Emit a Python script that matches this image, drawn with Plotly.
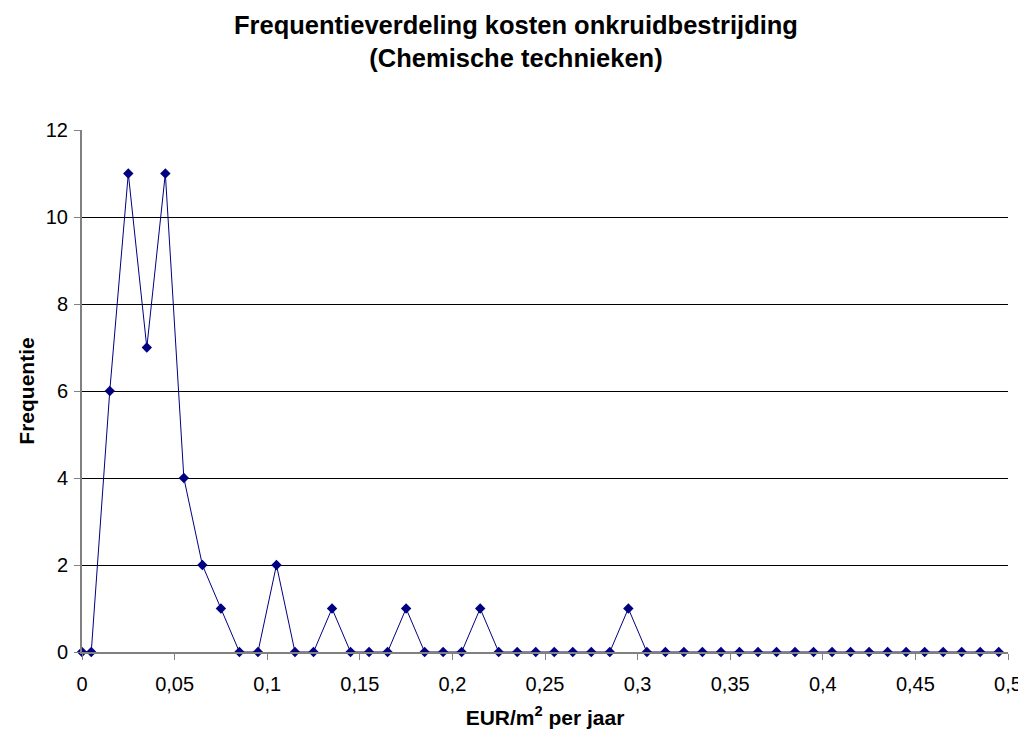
import plotly.graph_objects as go

x_values = [0, 0.005] + [round(0.015 + 0.01 * i, 3) for i in range(49)]
frequencies = [0, 0, 6, 11, 7, 11, 4, 2, 1, 0,
               0, 2, 0, 0, 1, 0, 0, 0, 1, 0,
               0, 0, 1, 0, 0, 0, 0, 0, 0, 0,
               1, 0, 0, 0, 0, 0, 0, 0, 0, 0,
               0, 0, 0, 0, 0, 0, 0, 0, 0, 0, 0]
x_title = "EUR/m<sup>2</sup> per jaar"
y_title = "Frequentie"
chart_title = "<b>Frequentieverdeling kosten onkruidbestrijding<br>(Chemische technieken)</b>"

fig = go.Figure(go.Scatter(
    x=x_values, y=frequencies, mode="lines+markers",
    line=dict(color="#000080", width=1),
    marker=dict(symbol="diamond", size=8, color="#000080"),
    cliponaxis=False,
))

fig.update_layout(
    width=1018, height=721,
    margin=dict(l=74, r=18, t=122, b=77),
    paper_bgcolor="white", plot_bgcolor="white",
    separators=",.",
    font=dict(family="Liberation Sans, Arial", color="black"),
    title=dict(text=chart_title, x=508 / 1018, xanchor="center", y=1 - 25.8 / 721, yanchor="top",
               font=dict(size=25.5)),
    showlegend=False,
)
fig.update_xaxes(
    range=[0, 0.5], dtick=0.05, tick0=0, showgrid=False, automargin=False,
    showline=True, linecolor="#808080", linewidth=2,
    ticks="outside", ticklen=6, tickcolor="#808080", ticklabelstandoff=7,
    tickfont=dict(size=20),
    title=dict(text="<b>" + x_title + "</b>", font=dict(size=21), standoff=22),
    zeroline=False,
)
fig.update_yaxes(
    range=[0, 12], dtick=2, showgrid=True, gridcolor="black", gridwidth=1,
    automargin=False,
    showline=True, linecolor="#808080", linewidth=2,
    ticks="outside", ticklen=6, tickcolor="#808080", ticklabelstandoff=2,
    tickfont=dict(size=20),
    title=dict(text="<b>" + y_title + "</b>", font=dict(size=21), standoff=5),
    zeroline=False,
)
fig.write_html("out.html")
